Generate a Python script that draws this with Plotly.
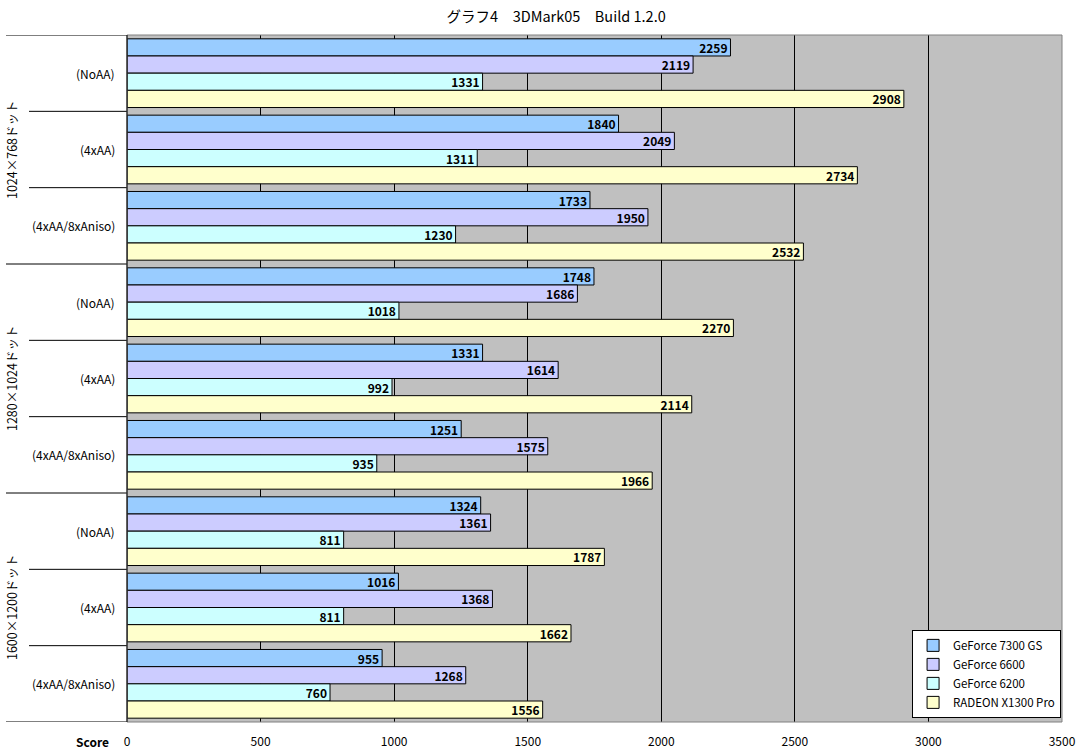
import plotly.graph_objects as go

groups = ["1024×768ドット", "1280×1024ドット", "1600×1200ドット"]
settings = ["(NoAA)", "(4xAA)", "(4xAA/8xAniso)"]
series_names = ["GeForce 7300 GS", "GeForce 6600", "GeForce 6200", "RADEON X1300 Pro"]
colors = ["#99CCFF", "#CCCCFF", "#CCFFFF", "#FFFFCC"]

gf7300 = [2259, 1840, 1733, 1748, 1331, 1251, 1324, 1016, 955]
gf6600 = [2119, 2049, 1950, 1686, 1614, 1575, 1361, 1368, 1268]
gf6200 = [1331, 1311, 1230, 1018, 992, 935, 811, 811, 760]
x1300 = [2908, 2734, 2532, 2270, 2114, 1966, 1787, 1662, 1556]
series_values = [gf7300, gf6600, gf6200, x1300]

x_ticks = [0, 500, 1000, 1500, 2000, 2500, 3000, 3500]

FONT = "MS PGothic, Noto Sans CJK JP, sans-serif"
n = len(groups) * len(settings)
ypos = list(range(n))

fig = go.Figure()
for name, col, vals in zip(series_names, colors, series_values):
    fig.add_trace(go.Bar(
        x=vals, y=ypos, orientation="h", name=name,
        marker=dict(color=col, line=dict(color="black", width=1)),
        texttemplate="<b>%{x}</b>", textposition="inside", insidetextanchor="end",
        textangle=0, textfont=dict(color="black", size=12, family=FONT),
        constraintext="none",
    ))

annotations = []
shapes = []
for gi, g in enumerate(groups):
    for si, s in enumerate(settings):
        k = gi * len(settings) + si
        annotations.append(dict(x=0, xref="paper", y=k, yref="y", text=s, showarrow=False,
                                xanchor="right", xshift=-10, font=dict(size=12, family=FONT, color="black")))
    annotations.append(dict(x=-0.1235, xref="paper", y=gi * len(settings) + 1, yref="y", text=g,
                            showarrow=False, textangle=-90, xanchor="center", yanchor="middle",
                            font=dict(size=12.5, family=FONT, color="black")))
for b in range(n + 1):
    yb = b - 0.5
    x0 = -0.1294 if b % len(settings) == 0 else -0.1048
    shapes.append(dict(type="line", xref="paper", yref="y", x0=x0, x1=0, y0=yb, y1=yb,
                       line=dict(color="black", width=1)))
shapes.append(dict(type="rect", xref="paper", yref="paper", x0=0, x1=1, y0=0, y1=1,
                   line=dict(color="#808080", width=1), layer="above"))
shapes.append(dict(type="line", xref="paper", yref="paper", x0=0, x1=0, y0=0, y1=1,
                   line=dict(color="black", width=1), layer="above"))
annotations.append(dict(x=0, xref="paper", y=0, yref="paper", text="<b>Score</b>", showarrow=False,
                        xanchor="right", yanchor="top", xshift=-16, yshift=-9,
                        font=dict(size=12, family=FONT, color="black")))

fig.update_layout(
    width=1081, height=754,
    margin=dict(l=127, r=19, t=35, b=32, autoexpand=False),
    paper_bgcolor="white", plot_bgcolor="#C0C0C0",
    title=dict(text="グラフ4　3DMark05　Build 1.2.0", x=0.459, xanchor="center", y=0.978, yanchor="middle",
               xref="paper", font=dict(size=14.5, family=FONT, color="black")),
    barmode="group", bargap=0.1, bargroupgap=0,
    font=dict(family=FONT, size=11, color="black"),
    xaxis=dict(range=[0, 3500], tickvals=x_ticks, showgrid=True, gridcolor="black", gridwidth=1,
               zeroline=False, showline=False, ticks="", ticklabelstandoff=11, automargin=False,
               tickfont=dict(size=12, family=FONT, color="black"), fixedrange=True),
    yaxis=dict(range=[n - 0.5, -0.5], showticklabels=False, showgrid=False, zeroline=False,
               ticks="", fixedrange=True, automargin=False),
    legend=dict(x=0.999, y=0.006, xanchor="right", yanchor="bottom", bgcolor="white",
                bordercolor="black", borderwidth=1, font=dict(size=11.5, family=FONT, color="black"),
                tracegroupgap=0, itemwidth=30, traceorder="normal"),
    annotations=annotations, shapes=shapes,
)

fig.write_html("out.html")
